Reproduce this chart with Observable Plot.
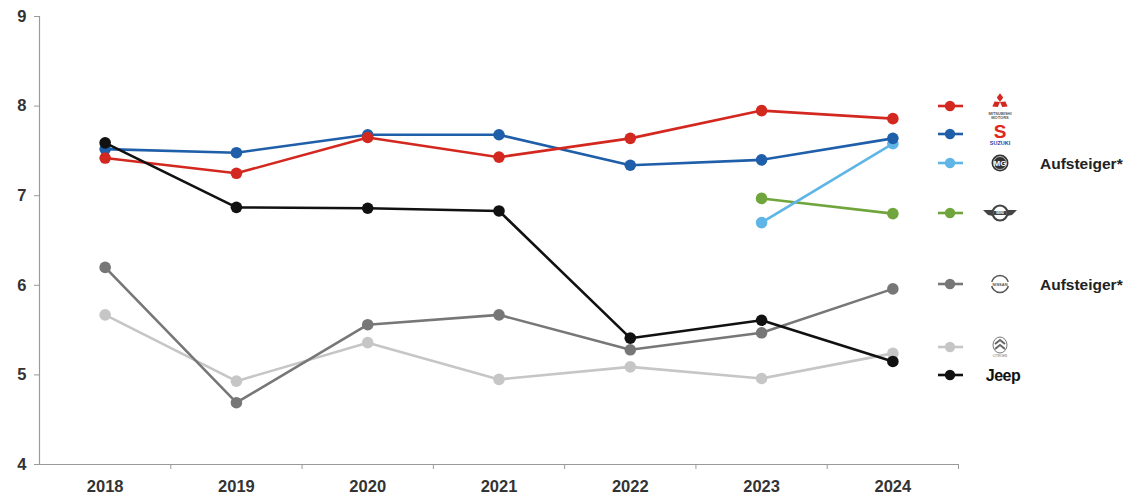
<!DOCTYPE html>
<html>
<head>
<meta charset="utf-8">
<script src="https://cdn.jsdelivr.net/npm/d3@7"></script>
<script src="https://cdn.jsdelivr.net/npm/@observablehq/plot@0.6"></script>
<style>
  html, body { margin: 0; padding: 0; background: #fff; }
  #wrap { position: relative; width: 1142px; height: 497px; font-family: "Liberation Sans", Arial, sans-serif; }
  #legend { position: absolute; left: 0; top: 0; }
</style>
</head>
<body>
<div id="wrap"></div>
<script>
// ---- Data ----
const years = [2018, 2019, 2020, 2021, 2022, 2023, 2024];
const mitsubishi = [7.42, 7.25, 7.65, 7.43, 7.64, 7.95, 7.86];
const suzuki     = [7.52, 7.48, 7.68, 7.68, 7.34, 7.40, 7.64];
const mg         = [null, null, null, null, null, 6.70, 7.58];
const mini       = [null, null, null, null, null, 6.97, 6.80];
const nissan     = [6.20, 4.69, 5.56, 5.67, 5.28, 5.47, 5.96];
const citroen    = [5.67, 4.93, 5.36, 4.95, 5.09, 4.96, 5.24];
const jeep       = [7.59, 6.87, 6.86, 6.83, 5.41, 5.61, 5.15];
const yTicks = [4, 5, 6, 7, 8, 9];
const upLabel = "Aufsteiger*";

const seriesList = [
  {key: "Citroën",    values: citroen,    color: "#c6c6c6"},
  {key: "Nissan",     values: nissan,     color: "#777777"},
  {key: "Mini",       values: mini,       color: "#6fa53c"},
  {key: "MG",         values: mg,         color: "#5fb6e6"},
  {key: "Suzuki",     values: suzuki,     color: "#1f5ea8"},
  {key: "Mitsubishi", values: mitsubishi, color: "#d3281f"},
  {key: "Jeep",       values: jeep,       color: "#111111"}
];

const rows = [];
for (const s of seriesList) {
  years.forEach((yr, i) => {
    if (s.values[i] != null) rows.push({series: s.key, year: yr, value: s.values[i], color: s.color});
  });
}

const font = "Liberation Sans, Arial, sans-serif";
const bounds = years.map(y => y - 0.5).concat([years[years.length - 1] + 0.5]);

const marks = [
  Plot.ruleY([4], {x1: () => bounds[0], x2: () => bounds[bounds.length - 1], stroke: "#9a9a9a", strokeWidth: 1.2}),
  Plot.ruleX([bounds[0]], {y1: () => 4, y2: () => 9, stroke: "#9a9a9a", strokeWidth: 1.2}),
  Plot.ruleX(bounds.slice(1), {y1: () => 4, y2: () => 4, insetBottom: -5, stroke: "#9a9a9a", strokeWidth: 1}),
  Plot.axisY(yTicks, {anchor: "left", tickSize: 5, tickPadding: 8, stroke: "#9a9a9a", fill: "#333", fontSize: 16.5, fontWeight: "bold", tickFormat: d => d, label: null}),
  Plot.axisX(years, {anchor: "bottom", tickSize: 0, tickPadding: 16, fill: "#333", fontSize: 16.5, fontWeight: "bold", tickFormat: d => String(d), label: null})
];
for (const s of seriesList) {
  const data = rows.filter(r => r.series === s.key);
  marks.push(Plot.line(data, {x: "year", y: "value", stroke: s.color, strokeWidth: 2.6}));
  marks.push(Plot.dot(data, {x: "year", y: "value", fill: s.color, r: 5.8}));
}

const chart = Plot.plot({
  width: 1142,
  height: 497,
  marginLeft: 39,
  marginRight: 184,
  marginTop: 16,
  marginBottom: 33,
  style: {fontFamily: font, background: "#fff", overflow: "visible"},
  x: {type: "linear", domain: [bounds[0], bounds[bounds.length - 1]], axis: null, label: null},
  y: {type: "linear", domain: [4, 9], axis: null, label: null},
  marks
});
document.getElementById("wrap").appendChild(chart);

// ---- Legend (HTML overlay with small logo sketches) ----
const legendRows = [
  {key: "Mitsubishi", y: 106, up: false},
  {key: "Suzuki",     y: 134, up: false},
  {key: "MG",         y: 163, up: true},
  {key: "Mini",       y: 213, up: false},
  {key: "Nissan",     y: 284, up: true},
  {key: "Citroën",    y: 347, up: false},
  {key: "Jeep",       y: 375, up: false}
];
const colorOf = Object.fromEntries(seriesList.map(s => [s.key, s.color]));
const svg = d3.select("#wrap").append("svg").attr("id", "legend").attr("width", 1142).attr("height", 497)
  .style("font-family", font);

function logo(g, key, cx, cy) {
  if (key === "Mitsubishi") {
    const d = "M0,0 L3.2,-4.4 L0,-8.8 L-3.2,-4.4 Z";
    [0, 120, 240].forEach(a => g.append("path").attr("d", d).attr("fill", "#d3281f")
      .attr("transform", `translate(${cx},${cy - 4}) rotate(${a})`));
    g.append("text").attr("x", cx).attr("y", cy + 9).attr("text-anchor", "middle").attr("font-size", 4).attr("font-weight", "bold").attr("fill", "#555").text("MITSUBISHI");
    g.append("text").attr("x", cx).attr("y", cy + 13).attr("text-anchor", "middle").attr("font-size", 4).attr("font-weight", "bold").attr("fill", "#555").text("MOTORS");
  } else if (key === "Suzuki") {
    g.append("text").attr("x", cx).attr("y", cy + 4).attr("text-anchor", "middle").attr("font-size", 19).attr("font-weight", "bold").attr("fill", "#e0261d").text("S");
    g.append("text").attr("x", cx).attr("y", cy + 11).attr("text-anchor", "middle").attr("font-size", 5.5).attr("font-weight", "bold").attr("fill", "#2b3f9e").text("SUZUKI");
  } else if (key === "MG") {
    g.append("circle").attr("cx", cx).attr("cy", cy).attr("r", 8.5).attr("fill", "#333");
    g.append("circle").attr("cx", cx).attr("cy", cy).attr("r", 6.5).attr("fill", "none").attr("stroke", "#ddd").attr("stroke-width", 0.8);
    g.append("text").attr("x", cx).attr("y", cy + 3).attr("text-anchor", "middle").attr("font-size", 8).attr("font-weight", "bold").attr("fill", "#fff").text("MG");
  } else if (key === "Mini") {
    g.append("path").attr("d", `M${cx - 17},${cy - 3} L${cx - 7},${cy - 3} L${cx - 7},${cy + 3} L${cx - 12},${cy + 2} Z`).attr("fill", "#444");
    g.append("path").attr("d", `M${cx + 17},${cy - 3} L${cx + 7},${cy - 3} L${cx + 7},${cy + 3} L${cx + 12},${cy + 2} Z`).attr("fill", "#444");
    g.append("circle").attr("cx", cx).attr("cy", cy).attr("r", 7.5).attr("fill", "#fff").attr("stroke", "#444").attr("stroke-width", 2.2);
    g.append("rect").attr("x", cx - 6.5).attr("y", cy - 2).attr("width", 13).attr("height", 4).attr("fill", "#444");
    g.append("text").attr("x", cx).attr("y", cy + 1.4).attr("text-anchor", "middle").attr("font-size", 3.6).attr("font-weight", "bold").attr("fill", "#fff").text("MINI");
  } else if (key === "Nissan") {
    g.append("circle").attr("cx", cx).attr("cy", cy).attr("r", 8.5).attr("fill", "none").attr("stroke", "#555").attr("stroke-width", 1.5);
    g.append("rect").attr("x", cx - 10.5).attr("y", cy - 2).attr("width", 21).attr("height", 4).attr("fill", "#fff");
    g.append("text").attr("x", cx).attr("y", cy + 1.5).attr("text-anchor", "middle").attr("font-size", 4).attr("font-weight", "bold").attr("fill", "#555").text("NISSAN");
  } else if (key === "Citroën") {
    g.append("ellipse").attr("cx", cx).attr("cy", cy - 2).attr("rx", 7).attr("ry", 8).attr("fill", "none").attr("stroke", "#777").attr("stroke-width", 1);
    g.append("path").attr("d", `M${cx - 5},${cy - 3} L${cx},${cy - 7} L${cx + 5},${cy - 3}`).attr("fill", "none").attr("stroke", "#666").attr("stroke-width", 2);
    g.append("path").attr("d", `M${cx - 5},${cy + 2} L${cx},${cy - 2} L${cx + 5},${cy + 2}`).attr("fill", "none").attr("stroke", "#666").attr("stroke-width", 2);
    g.append("text").attr("x", cx).attr("y", cy + 10).attr("text-anchor", "middle").attr("font-size", 3.2).attr("fill", "#666").text("CITROËN");
  } else if (key === "Jeep") {
    g.append("text").attr("x", cx + 3).attr("y", cy + 6).attr("text-anchor", "middle").attr("font-size", 16).attr("font-weight", "bold").attr("fill", "#111").attr("letter-spacing", -0.5).text("Jeep");
  }
}

for (const r of legendRows) {
  const g = svg.append("g");
  const c = colorOf[r.key];
  g.append("line").attr("x1", 938).attr("x2", 963).attr("y1", r.y).attr("y2", r.y).attr("stroke", c).attr("stroke-width", 2.6);
  g.append("circle").attr("cx", 950).attr("cy", r.y).attr("r", 5.2).attr("fill", c);
  logo(g, r.key, 1000, r.y);
  if (r.up) {
    g.append("text").attr("x", 1040).attr("y", r.y + 6).attr("font-size", 15.5).attr("font-weight", "bold").attr("fill", "#222").text(upLabel);
  }
}
</script>
</body>
</html>
